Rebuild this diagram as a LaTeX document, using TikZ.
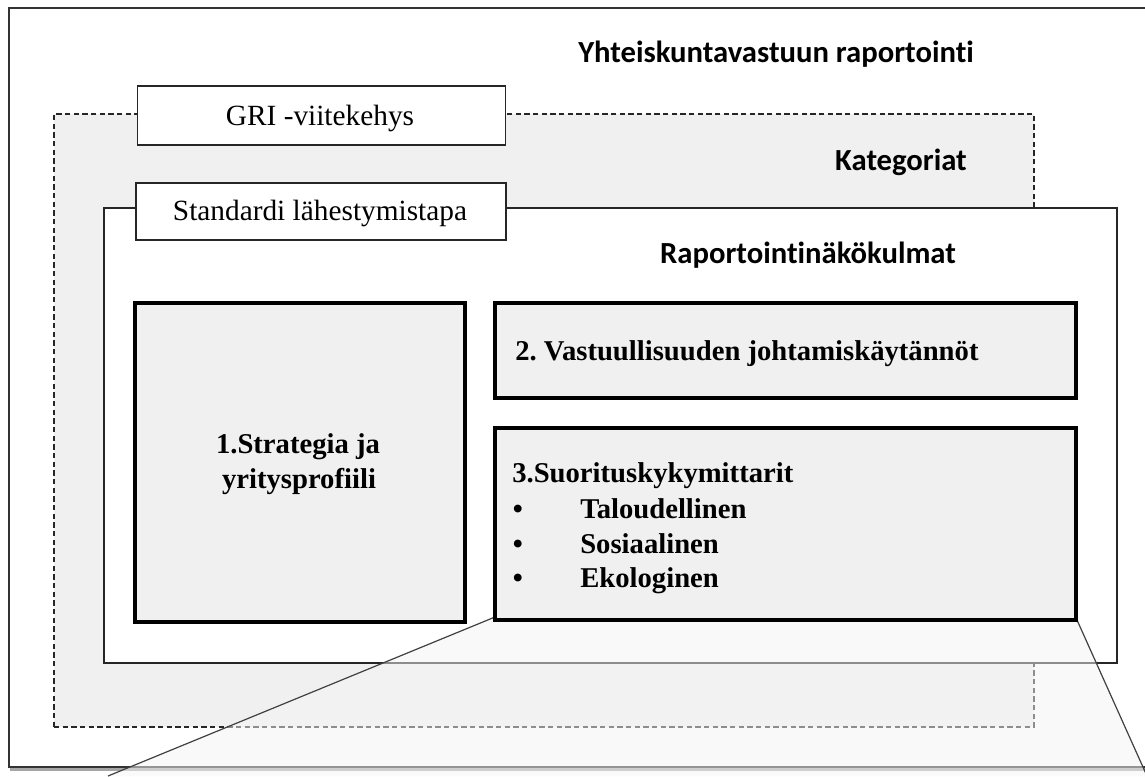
\documentclass[tikz,border=0pt]{standalone}
\usepackage{fontspec}
\setmainfont{Liberation Serif}
\newfontfamily\calfont[Ligatures=NoCommon]{Carlito}
\usetikzlibrary{shadows}
\frenchspacing
\begin{document}
\begin{tikzpicture}[x=0.75pt,y=-0.75pt,
  outerframe/.style={draw=black!80,line width=1.5pt,fill=white,
    drop shadow={shadow xshift=1pt,shadow yshift=-3pt,opacity=0.35,fill=black}},
  dashedframe/.style={draw=black!85,line width=1.1pt,dash pattern=on 4pt off 2.5pt,fill=black!6},
  labelbox/.style={draw=black!85,line width=1.1pt,fill=white,inner sep=0pt},
  innerframe/.style={draw=black!85,line width=1.1pt,fill=white,inner sep=0pt},
  thickbox/.style={draw=black,line width=3pt,fill=black!6,inner sep=0pt},
  heading/.style={font=\calfont\bfseries\fontsize{23pt}{27pt}\selectfont,anchor=base,inner sep=0pt},
  plain/.style={font=\fontsize{22pt}{26pt}\selectfont,anchor=base,inner sep=0pt},
  boxtext/.style={font=\bfseries\fontsize{21.5pt}{26pt}\selectfont,inner sep=0pt},
  callout/.style={draw=black!75,line width=0.9pt},
]
\useasboundingbox (0,0) rectangle (1145,776);
% outer frame
\node[outerframe,minimum width={1211*0.75pt},minimum height={759*0.75pt},inner sep=0pt] (outer) at (614.5,387.5) {};
\node[heading] (title) at (776,62) {Yhteiskuntavastuun raportointi};
% dashed categories area
\node[dashedframe,minimum width={980*0.75pt},minimum height={613*0.75pt},inner sep=0pt] (cat) at (544,420.5) {};
\node[heading] (catlabel) at (901,170) {Kategoriat};
% GRI label box
\node[labelbox,minimum width={368*0.75pt},minimum height={59*0.75pt}] (gri) at (321.5,115.5) {};
\node[plain] (gritext) at (320,125) {GRI -viitekehys};
% standard approach frame
\node[innerframe,minimum width={1013*0.75pt},minimum height={455*0.75pt}] (std) at (610.5,435.5) {};
\node[labelbox,minimum width={370*0.75pt},minimum height={57*0.75pt}] (stdbox) at (321,211.5) {};
\node[plain] (stdtext) at (320,220) {Standardi lähestymistapa};
\node[heading] (rap) at (808,263) {Raportointinäkökulmat};
% callout trapezoid
\coordinate (cl) at (108,776);
\coordinate (cr) at (1147,776);
\coordinate (b3l) at (495,617);
\coordinate (b3r) at (1077,620);
\fill[black!4,fill opacity=0.5] (b3l) -- (b3r) -- (cr) -- (cl) -- cycle;
\draw[callout] (b3l) -- (cl);
\draw[callout] (b3r) -- (cr);
% boxes
\node[thickbox,minimum width={330*0.75pt},minimum height={319*0.75pt}] (b1) at (300,462.5) {};
\node[boxtext,anchor=base] (b1a) at (298,453) {1.Strategia ja};
\node[boxtext,anchor=base] (b1b) at (299,488) {yritysprofiili};
\node[thickbox,minimum width={581*0.75pt},minimum height={95*0.75pt}] (b2) at (785.5,350.5) {};
\node[boxtext,anchor=base west] (b2text) at (515,360) {2. Vastuullisuuden johtamiskäytännöt};
\node[thickbox,minimum width={581*0.75pt},minimum height={192*0.75pt}] (b3) at (785.5,524) {};
\node[boxtext,anchor=base west] (b3text) at (512,482) {3.Suorituskykymittarit};
\node[boxtext,anchor=base] (bul1) at (518,518) {\textbullet};
\node[boxtext,anchor=base west] (i1) at (580,518) {Taloudellinen};
\node[boxtext,anchor=base] (bul2) at (518,553) {\textbullet};
\node[boxtext,anchor=base west] (i2) at (580,553) {Sosiaalinen};
\node[boxtext,anchor=base] (bul3) at (518,587) {\textbullet};
\node[boxtext,anchor=base west] (i3) at (580,587) {Ekologinen};
\end{tikzpicture}
\end{document}
